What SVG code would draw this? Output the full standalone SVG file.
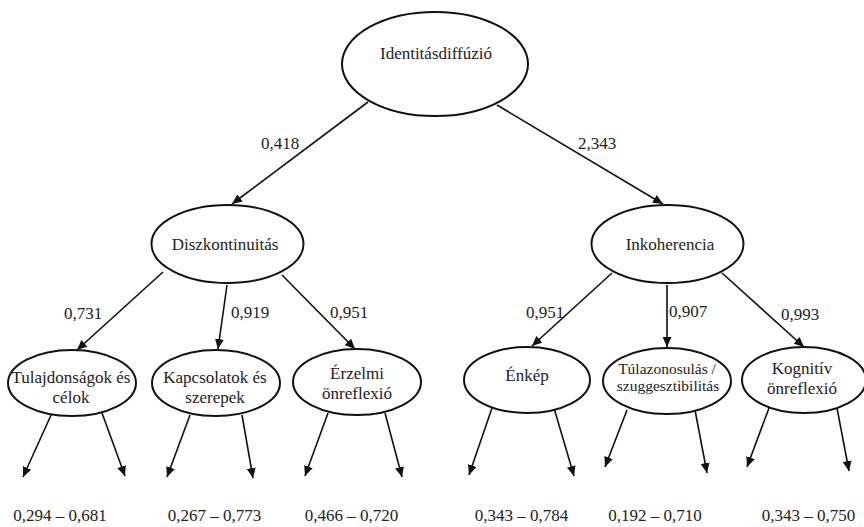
<svg xmlns="http://www.w3.org/2000/svg" width="864" height="527" viewBox="0 0 864 527" font-family="'Liberation Serif', 'DejaVu Serif', serif">
<style>
.node ellipse{fill:#fff;stroke:#111;stroke-width:2}
text{font-family:'Liberation Serif','DejaVu Serif',serif;font-size:17px;fill:#222;text-anchor:middle}
.small{font-size:15.5px}
.conn line{stroke:#111;stroke-width:1.6;marker-end:url(#arr)}
</style>
<defs>
<marker id="arr" markerUnits="userSpaceOnUse" markerWidth="10" markerHeight="9" refX="10" refY="4.5" orient="auto">
<path d="M0,0 L10,4.5 L0,9 z" fill="#111"/>
</marker>
</defs>
<rect width="864" height="527" fill="#fff"/>
<g id="connectors" class="conn">
<line x1="368" y1="102" x2="232" y2="204"/>
<line x1="497" y1="105" x2="663" y2="204"/>
<line x1="163" y1="272" x2="77" y2="350"/>
<line x1="227" y1="285" x2="218" y2="349"/>
<line x1="282" y1="275" x2="355" y2="349"/>
<line x1="612" y1="273" x2="532" y2="346"/>
<line x1="667" y1="285" x2="667" y2="347"/>
<line x1="722" y1="273" x2="804" y2="347"/>
<line x1="52" y1="413" x2="23" y2="477"/>
<line x1="102" y1="413" x2="125" y2="476"/>
<line x1="190" y1="415" x2="167" y2="477"/>
<line x1="242" y1="415" x2="253" y2="478"/>
<line x1="328" y1="413" x2="305" y2="476"/>
<line x1="385" y1="413" x2="402" y2="477"/>
<line x1="492" y1="408" x2="469" y2="475"/>
<line x1="554" y1="408" x2="574" y2="476"/>
<line x1="627" y1="410" x2="605" y2="467"/>
<line x1="695" y1="410" x2="707" y2="473"/>
<line x1="769" y1="408" x2="747" y2="467"/>
<line x1="837" y1="408" x2="849" y2="471"/>
</g>
<g id="edge-labels">
<text x="280" y="149">0,418</text>
<text x="597" y="149">2,343</text>
<text x="83" y="319">0,731</text>
<text x="250" y="318">0,919</text>
<text x="349" y="318">0,951</text>
<text x="545" y="318">0,951</text>
<text x="688" y="317">0,907</text>
<text x="800" y="320">0,993</text>
</g>
<g id="n-identitas" class="node">
<ellipse cx="435" cy="64" rx="93" ry="52"/>
<text x="436" y="59">Identitásdiffúzió</text>
</g>
<g id="n-diszkontinuitas" class="node">
<ellipse cx="227.5" cy="244" rx="76" ry="39"/>
<text x="225" y="250">Diszkontinuitás</text>
</g>
<g id="n-inkoherencia" class="node">
<ellipse cx="667.5" cy="244" rx="76" ry="39"/>
<text x="670" y="250">Inkoherencia</text>
</g>
<g id="n-tulajdonsagok" class="node">
<ellipse cx="72" cy="383" rx="64" ry="33"/>
<text x="71" y="383">Tulajdonságok és</text>
<text x="71" y="403">célok</text>
</g>
<g id="n-kapcsolatok" class="node">
<ellipse cx="216" cy="383" rx="64" ry="33"/>
<text x="215" y="383">Kapcsolatok és</text>
<text x="215" y="403">szerepek</text>
</g>
<g id="n-erzelmi" class="node">
<ellipse cx="357" cy="382" rx="64" ry="33"/>
<text x="357" y="379">Érzelmi</text>
<text x="357" y="399">önreflexió</text>
</g>
<g id="n-enkep" class="node">
<ellipse cx="527" cy="380" rx="63" ry="33"/>
<text x="527" y="381">Énkép</text>
</g>
<g id="n-tulazonosulas" class="node">
<ellipse cx="667" cy="381" rx="64" ry="33"/>
<text class="small" x="667" y="374">Túlazonosulás /</text>
<text class="small" x="668" y="391">szuggesztibilitás</text>
</g>
<g id="n-kognitiv" class="node">
<ellipse cx="804" cy="380" rx="62" ry="33"/>
<text x="802" y="374">Kognitív</text>
<text x="802" y="394">önreflexió</text>
</g>
<g id="range-labels">
<text x="60" y="521">0,294 – 0,681</text>
<text x="214.5" y="521">0,267 – 0,773</text>
<text x="351.5" y="521">0,466 – 0,720</text>
<text x="521.5" y="521">0,343 – 0,784</text>
<text x="655" y="521">0,192 – 0,710</text>
<text x="808.5" y="521">0,343 – 0,750</text>
</g>
</svg>
